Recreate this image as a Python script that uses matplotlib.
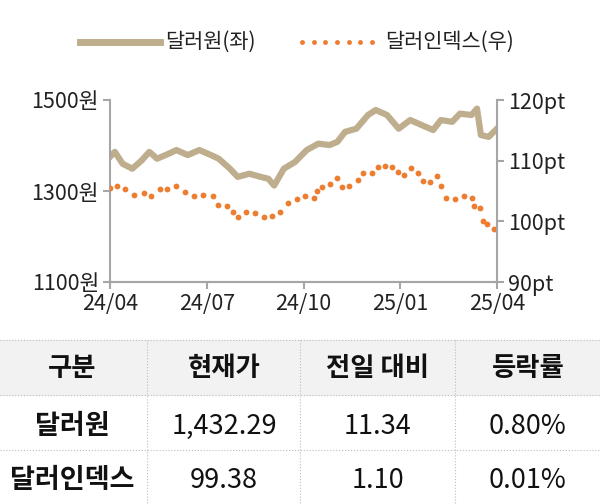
import matplotlib
matplotlib.use("Agg")
import matplotlib.pyplot as plt
from matplotlib.patches import Rectangle
from matplotlib.lines import Line2D
import numpy as np

plt.rcParams['font.family'] = 'Noto Sans CJK KR'

# month offsets from 24/04 (0..12)
krw_m = [0.00,0.15,0.39,0.69,0.98,1.22,1.46,1.82,2.06,2.41,2.77,3.13,3.37,3.72,3.96,4.32,4.67,4.91,5.09,5.39,5.74,6.10,6.46,6.81,7.05,7.29,7.64,8.00,8.24,8.59,8.95,9.31,9.66,10.02,10.26,10.61,10.85,11.21,11.38,11.50,11.74,12.00]
krw_v = [1375,1386,1360,1349,1367,1386,1371,1382,1390,1379,1390,1379,1371,1349,1331,1338,1331,1327,1312,1349,1364,1390,1404,1401,1408,1430,1437,1467,1478,1467,1437,1456,1445,1434,1456,1452,1470,1467,1481,1423,1419,1437]
dxy_x = [287,305,325,350,377,395,417,435,458,483,507,530,557,570,593,607,620,642,665,688,710,730,752,775,795,820,827,840,862,880,892,910,935,947,970,987,1005,1022,1038,1055,1073,1090,1103,1122,1140,1152,1163,1188,1212,1233,1237,1253,1260,1272,1288]
dxy_v = [105.5,105.8,105.3,104.4,104.6,104.2,105.3,105.4,105.9,104.9,104.1,104.3,104.1,102.7,102.5,101.6,100.7,101.6,101.4,100.7,100.8,101.6,103.0,103.6,104.2,103.9,105.0,105.6,106.1,107.1,105.7,105.8,106.8,107.9,107.9,109.0,109.2,109.0,108.2,107.7,108.8,107.9,106.6,106.5,107.4,105.9,103.8,103.6,104.2,103.8,102.6,102.2,100.1,99.5,98.7]
dxy_m = [(x-287)/1010*12 for x in dxy_x]

xtick_pos = [0,3,6,9,12]
xtick_lab = ['24/04','24/07','24/10','25/01','25/04']
left_ticks = [1100,1300,1500]
right_ticks = [90,100,110,120]

headers = ['구분','현재가','전일 대비','등락률']
rows = [['달러원','1,432.29','11.34','0.80%'],['달러인덱스','99.38','1.10','0.01%']]

tan = '#bfae8e'; orange = '#ed7d31'; grey = '#a6a6a6'
fig = plt.figure(figsize=(6,5.04), dpi=100)
ax = fig.add_axes([110/600, 1-282/504, 387/600, 182/504])
ax.plot(krw_m, krw_v, color=tan, lw=4.5, solid_joinstyle='round')
ax.set_xlim(0,12); ax.set_ylim(1100,1500)
ax2 = ax.twinx()
ax2.plot(dxy_m, dxy_v, 'o', color=orange, ms=4.2, mec='none')
ax2.set_ylim(90,120)
for a in (ax, ax2):
    a.spines['top'].set_visible(False)
    for s in ['left','right','bottom']:
        a.spines[s].set_color(grey); a.spines[s].set_linewidth(1.5)
    a.tick_params(colors='#222222', labelsize=15.5, length=5, color=grey, width=1.5, pad=3)
ax.spines['right'].set_visible(False)
ax2.spines['left'].set_visible(False)
ax.set_yticks(left_ticks); ax.set_yticklabels([f'{v}원' for v in left_ticks])
ax2.set_yticks(right_ticks); ax2.set_yticklabels([f'{v}pt' for v in right_ticks])
ax.set_xticks(xtick_pos); ax.set_xticklabels(xtick_lab)

# legend
fig.add_artist(Line2D([80/600,160/600],[1-42/504]*2, color=tan, lw=5))
fig.text(165/600, 1-42/504, '달러원(좌)', fontsize=15, va='center', color='#222')
for xx in np.linspace(302,372,7):
    fig.add_artist(Line2D([xx/600],[1-42/504], color=orange, marker='o', ms=3.5, mec='none', lw=0))
fig.text(385/600, 1-42/504, '달러인덱스(우)', fontsize=15, va='center', color='#222')

# table
def fy(y): return 1-y/504
fig.add_artist(Rectangle((0, fy(395)), 1, (395-340)/504, transform=fig.transFigure, color='#f2f2f2', zorder=0))
for y in [340,395,450]:
    fig.add_artist(Line2D([0,1],[fy(y)]*2, color='#bdbdbd', lw=0.8, ls=':'))
for x in [147,300,455]:
    fig.add_artist(Line2D([x/600]*2,[fy(340),0], color='#bdbdbd', lw=0.8, ls=':'))
cx = [72,224,378,528]
for i,h in enumerate(headers):
    fig.text(cx[i]/600, fy(368), h, ha='center', va='center', fontsize=19, fontweight='bold', color='#111')
for r,row in enumerate(rows):
    yc = [426,480][r]
    for i,c in enumerate(row):
        fig.text(cx[i]/600, fy(yc), c, ha='center', va='center', fontsize=19.5,
                 fontweight='bold' if i==0 else 'normal', color='#111')
fig.savefig('out.png', dpi=100)
